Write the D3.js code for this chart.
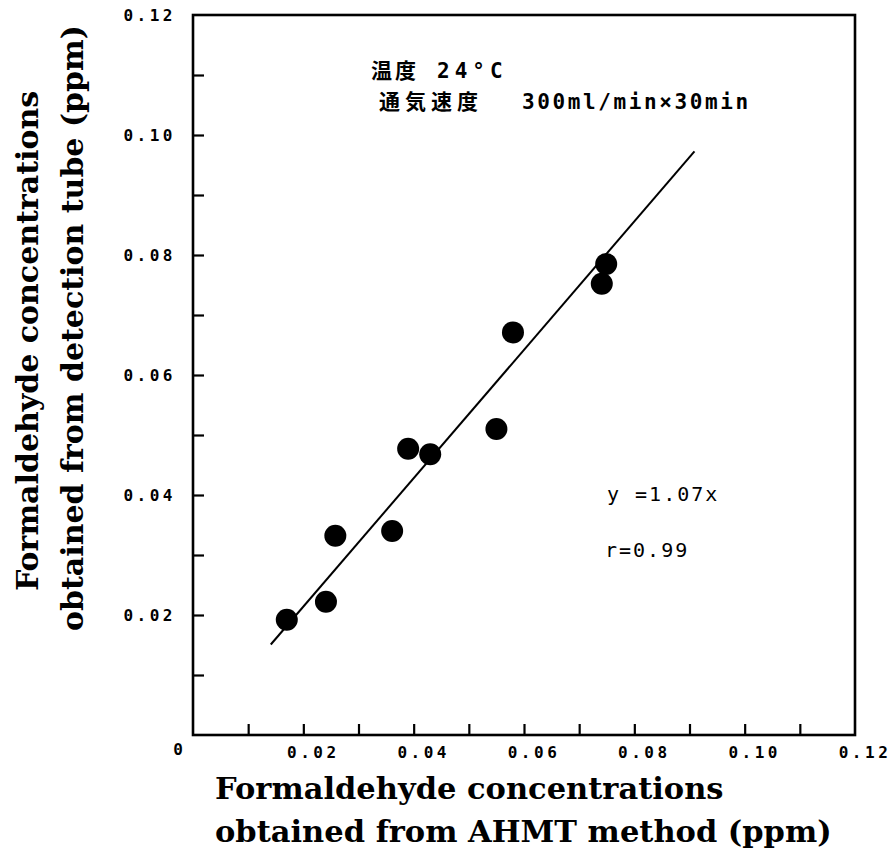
<!DOCTYPE html>
<html>
<head>
<meta charset="utf-8">
<script src="https://cdn.jsdelivr.net/npm/d3@7/dist/d3.min.js"></script>
<style>
  html, body { margin: 0; padding: 0; background: #fff; }
  svg { display: block; }
</style>
</head>
<body>
<script>
// AHMT method (x) vs detection tube (y), ppm
const ahmt = [0.0170, 0.0241, 0.0258, 0.0361, 0.0390, 0.0430, 0.0550, 0.0580, 0.0741, 0.0749];
const tube = [0.0192, 0.0222, 0.0332, 0.0340, 0.0477, 0.0468, 0.0510, 0.0671, 0.0752, 0.0785];

// fitted line y = slope * x, drawn over this x span
const slope = 1.07;
const fitSpan = [0.0141, 0.0909];

const tickValues = [0.01, 0.02, 0.03, 0.04, 0.05, 0.06, 0.07, 0.08, 0.09, 0.10, 0.11];
const labelValues = [0.02, 0.04, 0.06, 0.08, 0.10, 0.12];
const tickLabels = ["0.02", "0.04", "0.06", "0.08", "0.10", "0.12"];

const W = 895, H = 853;
const svg = d3.select("body").append("svg").attr("width", W).attr("height", H);

const x = d3.scaleLinear().domain([0, 0.12]).range([193, 855]);
const y = d3.scaleLinear().domain([0, 0.12]).range([735, 15]);

// frame
svg.append("rect")
  .attr("x", x(0)).attr("y", y(0.12))
  .attr("width", x(0.12) - x(0)).attr("height", y(0) - y(0.12))
  .attr("fill", "none").attr("stroke", "#000").attr("stroke-width", 2.6);

// inward ticks
const yAxis = d3.axisLeft(y).tickValues(tickValues).tickSize(-11).tickFormat("");
const gy = svg.append("g").attr("transform", `translate(${x(0)},0)`).call(yAxis);
const xAxis = d3.axisBottom(x).tickValues(tickValues).tickSize(-11).tickFormat("");
const gx = svg.append("g").attr("transform", `translate(0,${y(0)})`).call(xAxis);
[gy, gx].forEach(g => {
  g.select(".domain").remove();
  g.selectAll(".tick line").attr("stroke", "#000").attr("stroke-width", 2.2);
});

const tickFont = "'DejaVu Sans Mono', monospace";

// y tick labels
svg.append("g").selectAll("text").data(labelValues).join("text")
  .attr("x", x(0) - 17)
  .attr("y", d => y(d) + 6)
  .attr("text-anchor", "end")
  .style("font-family", tickFont).style("font-weight", "bold")
  .style("font-size", "16px").style("letter-spacing", "3.5px")
  .text((d, i) => tickLabels[i]);

// x tick labels
svg.append("g").selectAll("text").data(labelValues).join("text")
  .attr("x", d => x(d) + 10)
  .attr("y", y(0) + 23)
  .attr("text-anchor", "middle")
  .style("font-family", tickFont).style("font-weight", "bold")
  .style("font-size", "16px").style("letter-spacing", "3.5px")
  .text((d, i) => tickLabels[i]);

// origin label
svg.append("text")
  .attr("x", x(0) - 15).attr("y", y(0) + 20)
  .attr("text-anchor", "middle")
  .style("font-family", tickFont).style("font-weight", "bold").style("font-size", "16px")
  .text("0");

// regression line
svg.append("line")
  .attr("x1", x(fitSpan[0])).attr("y1", y(slope * fitSpan[0]))
  .attr("x2", x(fitSpan[1])).attr("y2", y(slope * fitSpan[1]))
  .attr("stroke", "#000").attr("stroke-width", 2);

// data points
svg.append("g").selectAll("circle").data(ahmt).join("circle")
  .attr("cx", d => x(d))
  .attr("cy", (d, i) => y(tube[i]))
  .attr("r", 11)
  .attr("fill", "#000");

// measurement conditions
const cjk = "'Noto Sans CJK JP', sans-serif";
const mono = "'DejaVu Sans Mono', monospace";
const note = svg.append("g").style("font-size", "21px");
note.append("text").attr("x", 371).attr("y", 78)
  .style("font-family", cjk).style("font-weight", "bold").style("letter-spacing", "3px")
  .text("温度");
note.append("text").attr("x", 437).attr("y", 78)
  .style("font-family", mono).style("font-weight", "bold").style("letter-spacing", "5px")
  .text("24°C");
note.append("text").attr("x", 379).attr("y", 109)
  .style("font-family", cjk).style("font-weight", "bold").style("letter-spacing", "5px")
  .text("通気速度");
note.append("text").attr("x", 522).attr("y", 109)
  .style("font-family", mono).style("font-weight", "bold").style("letter-spacing", "2.6px")
  .text("300ml/min×30min");

// equation and correlation
svg.append("text").attr("x", 607).attr("y", 501)
  .style("font-family", mono).style("font-size", "20px").style("letter-spacing", "2px")
  .text("y =1.07x");
svg.append("text").attr("x", 605).attr("y", 557)
  .style("font-family", mono).style("font-size", "20px").style("letter-spacing", "2px")
  .text("r=0.99");

// axis titles
const titleFont = "'DejaVu Serif', serif";
const xTitle = svg.append("g").style("font-family", titleFont).style("font-weight", "bold").style("font-size", "30.5px");
xTitle.append("text").attr("x", 215).attr("y", 799).text("Formaldehyde concentrations");
xTitle.append("text").attr("x", 215).attr("y", 842).text("obtained from AHMT method (ppm)");

const yTitle = svg.append("g").style("font-family", titleFont).style("font-weight", "bold").style("font-size", "30px")
  .attr("text-anchor", "middle");
yTitle.append("text").attr("transform", "translate(38,341) rotate(-90)").text("Formaldehyde concentrations");
yTitle.append("text").attr("transform", "translate(83,328) rotate(-90)").text("obtained from detection tube (ppm)");
</script>
</body>
</html>
